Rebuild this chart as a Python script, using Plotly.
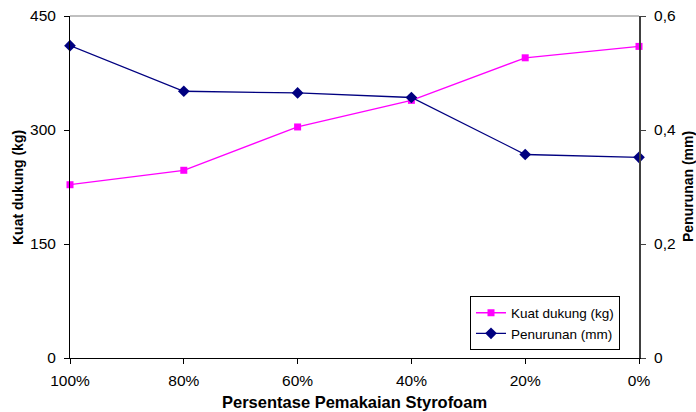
import plotly.graph_objects as go

categories = ["100%", "80%", "60%", "40%", "20%", "0%"]
kuat_dukung = [228, 247, 304, 339, 395, 410]
penurunan = [0.548, 0.468, 0.465, 0.457, 0.357, 0.352]
left_ticks = [0, 150, 300, 450]
right_ticks = [0, 0.2, 0.4, 0.6]

font = "Liberation Sans, Arial, sans-serif"
tick_font = dict(family=font, size=15.5, color="black")

fig = go.Figure()
fig.add_trace(go.Scatter(
    x=categories, y=kuat_dukung, name="Kuat dukung (kg)",
    mode="lines+markers",
    line=dict(color="#FF00FF", width=1.3),
    marker=dict(symbol="square", size=7, color="#FF00FF"),
    cliponaxis=False,
))
fig.add_trace(go.Scatter(
    x=categories, y=penurunan, name="Penurunan (mm)",
    mode="lines+markers", yaxis="y2",
    line=dict(color="#000080", width=1.3),
    marker=dict(symbol="diamond", size=9, color="#000080"),
    cliponaxis=False,
))

fig.update_layout(
    template="none",
    width=696, height=412,
    margin=dict(l=70, r=57, t=16, b=54, autoexpand=False),
    paper_bgcolor="white", plot_bgcolor="white",
    separators=",.",
    font=dict(family=font, size=14, color="black"),
    showlegend=True,
    legend=dict(
        x=0.703, y=0.101, xanchor="left", yanchor="middle",
        bgcolor="white", bordercolor="black", borderwidth=1,
        font=dict(size=13.5), tracegroupgap=0,
    ),
    xaxis=dict(
        type="category", range=[0, 5], automargin=False,
        showgrid=False, zeroline=False,
        showline=True, linecolor="black", linewidth=1,
        ticks="outside", ticklen=5, tickcolor="black",
        tickfont=tick_font, ticklabelstandoff=3,
    ),
    yaxis=dict(
        range=[0, 450], tickvals=left_ticks, automargin=False,
        showgrid=False, zeroline=False,
        showline=True, linecolor="black", linewidth=1,
        ticks="outside", ticklen=5, tickcolor="black",
        tickfont=tick_font, ticklabelstandoff=5,
    ),
    yaxis2=dict(
        range=[0, 0.6], tickvals=right_ticks, overlaying="y", side="right",
        automargin=False,
        showgrid=False, zeroline=False,
        showline=True, linecolor="#404040", linewidth=2,
        ticks="outside", ticklen=5, tickcolor="#404040",
        tickfont=tick_font, ticklabelstandoff=5,
    ),
    shapes=[dict(type="line", xref="paper", yref="paper", x0=0, x1=1, y0=1, y1=1,
                 line=dict(color="#808080", width=1))],
    annotations=[
        dict(text="<b>Kuat dukung (kg)</b>", xref="paper", yref="paper",
             x=-0.0914, y=0.5, xanchor="center", yanchor="middle",
             textangle=-90, showarrow=False, font=dict(size=14)),
        dict(text="<b>Penurunan (mm)</b>", xref="paper", yref="paper",
             x=1.0862, y=0.5, xanchor="center", yanchor="middle",
             textangle=-90, showarrow=False, font=dict(size=14)),
        dict(text="<b>Persentase Pemakaian Styrofoam</b>", xref="paper", yref="paper",
             x=0.5, y=-0.1287, xanchor="center", yanchor="middle",
             showarrow=False, font=dict(size=16.5)),
    ],
)

fig.write_html(
    "out.html",
    config={"displayModeBar": False},
    post_script="document.body.style.margin='0';document.body.style.overflow='hidden';",
)
